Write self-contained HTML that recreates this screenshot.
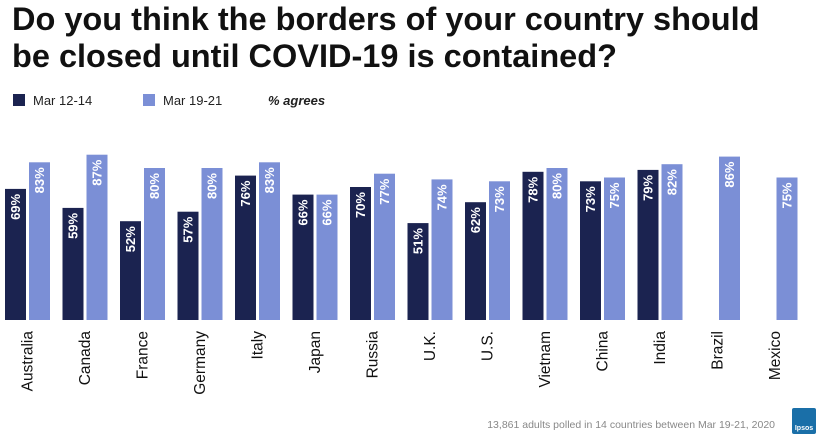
<!DOCTYPE html>
<html><head><meta charset="utf-8"><style>
body{margin:0;width:825px;height:444px;background:#fff;font-family:"Liberation Sans",Arial,sans-serif;overflow:hidden;position:relative}
#title{position:absolute;left:12px;top:1px;font-size:32.5px;font-weight:bold;line-height:37px;color:#111;margin:0;white-space:nowrap}
</style></head><body>
<h1 id="title">Do you think the borders of your country should<br>be closed until COVID-19 is contained?</h1>
<svg id="chart" width="825" height="444" style="position:absolute;left:0;top:0">
<g>
<rect x="13" y="94" width="12" height="12" fill="#1b2350"/>
<text x="33" y="105" font-size="13" fill="#222">Mar 12-14</text>
<rect x="143" y="94" width="12" height="12" fill="#7b8fd6"/>
<text x="163" y="105" font-size="13" fill="#222">Mar 19-21</text>
<text x="268" y="105" font-size="13" font-weight="bold" font-style="italic" fill="#222">% agrees</text>
</g>
<g id="bars"></g>
<text x="775" y="428" font-size="10.5" fill="#888" text-anchor="end">13,861 adults polled in 14 countries between Mar 19-21, 2020</text>
<g><rect x="792" y="408" width="24" height="26" rx="2" fill="#1a6fa8"/><text x="804" y="430" font-size="7" fill="#fff" text-anchor="middle" font-weight="bold">Ipsos</text></g>
</svg>
<script>
const categories=["Australia","Canada","France","Germany","Italy","Japan","Russia","U.K.","U.S.","Vietnam","China","India","Brazil","Mexico"];
const seriesMar12=[69,59,52,57,76,66,70,51,62,78,73,79,null,null];
const seriesMar19=[83,87,80,80,83,66,77,74,73,80,75,82,86,75];
const NS="http://www.w3.org/2000/svg";
const g=document.getElementById('bars');
const baseY=320,perPct=1.9,groupW=57.5,x0=5,barW=21;
function yScale(v){return baseY-v*perPct;}
function xGroup(i){return x0+i*groupW;}
function mk(t,a){const e=document.createElementNS(NS,t);for(const k in a)e.setAttribute(k,a[k]);return e;}
function bar(i,off,v,color,name){
  if(v==null)return;
  const x=xGroup(i)+off,y=yScale(v);
  const r=mk('rect',{x:x,y:y,width:barW,height:baseY-y,fill:color});
  
  
  g.appendChild(r);
  const cx=x+barW/2+4.5,ty=y+5;
  const t=mk('text',{x:cx,y:ty,transform:`rotate(-90 ${cx} ${ty})`,'text-anchor':'end','font-size':'13','font-weight':'bold',fill:'#fff'});
  t.textContent=v+'%';
  
  
  g.appendChild(t);
}
categories.forEach((c,i)=>{
  bar(i,0,seriesMar12[i],'#1b2350','bar-mar12-'+c.toLowerCase().replace(/\W/g,''));
  bar(i,24,seriesMar19[i],'#7b8fd6','bar-mar19-'+c.toLowerCase().replace(/\W/g,''));
  const cx=xGroup(i)+22+5.5,ty=331;
  const t=mk('text',{x:cx,y:ty,transform:`rotate(-90 ${cx} ${ty})`,'text-anchor':'end','font-size':'15.5',fill:'#111'});
  t.textContent=c;
  
  
  g.appendChild(t);
});
</script>
</body></html>
